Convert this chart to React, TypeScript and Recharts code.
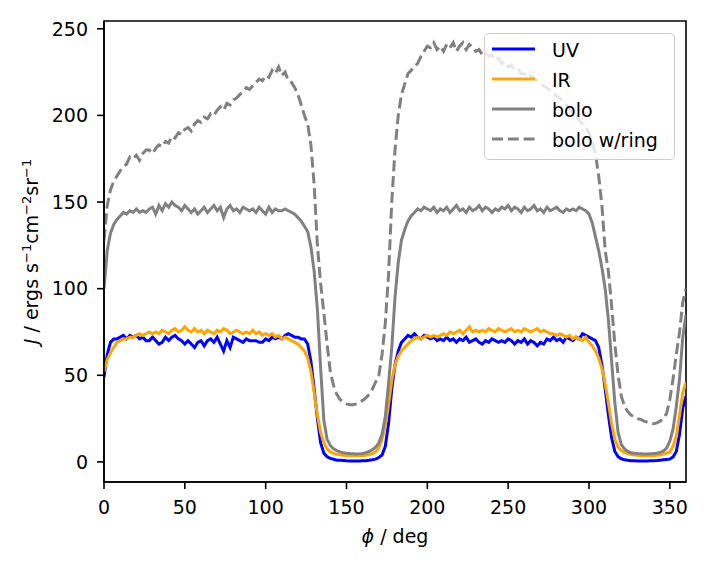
import React from 'react';
import { LineChart, Line, XAxis, YAxis, Legend, ReferenceArea } from 'recharts';

// phi grid in degrees (2 deg step)
const PHI = [
  0, 2, 4, 6, 8, 10, 12, 14, 16, 18,
  20, 22, 24, 26, 28, 30, 32, 34, 36, 38,
  40, 42, 44, 46, 48, 50, 52, 54, 56, 58,
  60, 62, 64, 66, 68, 70, 72, 74, 76, 78,
  80, 82, 84, 86, 88, 90, 92, 94, 96, 98,
  100, 102, 104, 106, 108, 110, 112, 114, 116, 118,
  120, 122, 124, 126, 128, 130, 132, 134, 136, 138,
  140, 142, 144, 146, 148, 150, 152, 154, 156, 158,
  160, 162, 164, 166, 168, 170, 172, 174, 176, 178,
  180, 182, 184, 186, 188, 190, 192, 194, 196, 198,
  200, 202, 204, 206, 208, 210, 212, 214, 216, 218,
  220, 222, 224, 226, 228, 230, 232, 234, 236, 238,
  240, 242, 244, 246, 248, 250, 252, 254, 256, 258,
  260, 262, 264, 266, 268, 270, 272, 274, 276, 278,
  280, 282, 284, 286, 288, 290, 292, 294, 296, 298,
  300, 302, 304, 306, 308, 310, 312, 314, 316, 318,
  320, 322, 324, 326, 328, 330, 332, 334, 336, 338,
  340, 342, 344, 346, 348, 350, 352, 354, 356, 358,
  360,
];

const UV = [
  49, 62, 69, 71, 71, 72, 73, 71, 73, 72,
  73, 71, 72, 70, 70, 72, 70, 68, 69, 72,
  70, 72, 73, 71, 70, 68, 70, 68, 66, 69,
  70, 67, 70, 71, 69, 72, 68, 64, 70, 66,
  72, 71, 70, 69, 71, 70, 70, 70, 69, 69,
  71, 70, 72, 71, 72, 71, 73, 74, 73, 72,
  72, 71, 71, 68, 58, 42, 25, 11, 5, 3,
  2, 1.5, 1, 1, 0.8, 0.6, 0.5, 0.5, 0.5, 0.5,
  0.6, 0.7, 0.9, 1.2, 1.6, 2.5, 4, 9, 22, 42,
  56, 64, 69, 71, 73, 72, 74, 72, 71, 73,
  72, 71, 72, 70, 71, 70, 72, 70, 71, 69,
  71, 70, 72, 69, 70, 71, 69, 68, 70, 69,
  71, 70, 69, 70, 69, 71, 70, 68, 70, 69,
  71, 68, 70, 69, 67, 69, 68, 71, 70, 72,
  70, 71, 69, 72, 71, 70, 72, 71, 74, 73,
  72, 71, 70, 66, 56, 42, 27, 14, 6, 3,
  1.8, 1.2, 0.9, 0.7, 0.6, 0.5, 0.5, 0.5, 0.5, 0.6,
  0.7, 0.8, 1, 1.2, 1.4, 1.6, 2.8, 6, 16, 31,
  38,
];

const IR = [
  52, 59, 63, 66, 69, 70, 71, 71, 72, 72,
  73, 74, 73, 74, 75, 74, 75, 74, 76, 75,
  74, 76, 77, 75, 76, 78, 76, 75, 77, 75,
  76, 74, 76, 75, 74, 76, 75, 77, 76, 74,
  75, 76, 75, 74, 75, 74, 76, 74, 75, 73,
  74, 73, 74, 72, 73, 71, 72, 71, 70, 69,
  68, 66, 64, 60, 52, 40, 27, 17, 11, 7.5,
  5.8, 4.9, 4.4, 4.1, 3.9, 3.7, 3.6, 3.5, 3.5, 3.5,
  3.6, 3.8, 4.2, 4.8, 5.8, 8, 13, 21, 33, 47,
  56, 61, 64, 66, 68, 70, 71, 72, 71, 72,
  73, 72, 73, 72, 73, 74, 73, 75, 74, 75,
  76, 74, 76, 78, 75, 76, 75, 76, 75, 77,
  76, 75, 77, 76, 75, 76, 77, 75, 76, 75,
  77, 76, 75, 76, 77, 75, 76, 75, 74, 74,
  73, 74, 73, 72, 73, 71, 72, 71, 70, 72,
  69, 67, 64, 60, 54, 45, 34, 22, 13, 8.5,
  6.5, 5.5, 4.8, 4.3, 4, 3.8, 3.6, 3.5, 3.5, 3.5,
  3.6, 3.8, 4, 4.5, 5, 5.8, 9, 15, 27, 40,
  46,
];

const BOLO = [
  100, 122, 132, 137, 140, 142, 144, 143, 145, 144,
  146, 144, 145, 144, 146, 147, 143, 148, 145, 149,
  147, 150, 148, 147, 145, 148, 146, 144, 146, 143,
  145, 147, 144, 146, 148, 145, 147, 141, 146, 148,
  145, 146, 144, 147, 146, 145, 146, 144, 147, 145,
  143, 147, 144, 146, 145, 145, 146, 145, 144, 143,
  141, 139, 136, 133, 124, 110, 88, 54, 24, 13,
  9.5, 7.5, 6.5, 5.8, 5.3, 5, 4.8, 4.7, 4.6, 4.7,
  4.9, 5.3, 6, 7, 8.5, 11, 16, 26, 45, 66,
  95, 115, 128, 134, 139, 142, 144, 146, 145, 147,
  146, 145, 147, 144, 146, 145, 147, 144, 146, 148,
  145, 146, 144, 147, 145, 146, 148, 145, 147, 146,
  144, 146, 145, 147, 146, 148, 145, 147, 146, 144,
  147, 145, 146, 148, 145, 146, 144, 147, 145, 146,
  147, 145, 144, 146, 145, 146, 145, 147, 146, 145,
  143, 138, 130, 122, 112, 100, 82, 58, 34, 17,
  10, 7.5, 6, 5.3, 5, 4.8, 4.7, 4.6, 4.6, 4.7,
  4.8, 5, 5.5, 6.2, 8, 12, 19, 32, 48, 72,
  85,
];

const BOLO_RING = [
  128, 148, 157, 162, 165, 168, 170, 172, 176, 175,
  177, 174, 178, 180, 180, 178, 181, 183, 182, 185,
  184, 188, 187, 190, 189, 192, 193, 191, 195, 197,
  196, 199, 198, 201, 200, 203, 205, 203, 207, 206,
  209, 210, 212, 214, 216, 215, 217, 219, 221, 220,
  223, 222, 226, 224, 228, 223, 225, 220, 219, 216,
  212, 206, 200, 195, 183, 160, 125, 103, 86, 68,
  52, 44, 39, 36, 34.5, 33.5, 33, 33, 33.5, 34.5,
  35.5, 37, 39, 42, 46, 50, 62, 80, 108, 150,
  180, 200, 212, 218, 224, 226, 228, 230, 234, 237,
  240, 239, 242, 238, 240, 237, 241, 239, 242, 237,
  240, 242, 238, 241, 239, 237, 238, 235, 236, 234,
  235, 232, 233, 230, 231, 228, 229, 226, 227, 224,
  224, 222, 223, 221, 220, 218, 217, 216, 214, 213,
  211, 210, 208, 206, 204, 202, 200, 197, 195, 193,
  190, 185, 178, 165, 148, 122, 110, 90, 68, 50,
  38, 32, 29, 27, 26, 25, 24.5, 23.5, 23, 22.5,
  22, 22.5, 23.5, 25, 28, 36, 48, 62, 75, 92,
  100,
];

const X_TICKS = [0, 50, 100, 150, 200, 250, 300, 350];
const Y_TICKS = [0, 50, 100, 150, 200, 250];
const X_DOMAIN: [number, number] = [0, 360];
const Y_DOMAIN: [number, number] = [-11.6, 254.5];

const SERIES = [
  { key: 'uv', name: 'UV', color: '#0000ff', dash: undefined as string | undefined },
  { key: 'ir', name: 'IR', color: '#ffa500', dash: undefined as string | undefined },
  { key: 'bolo', name: 'bolo', color: '#808080', dash: undefined as string | undefined },
  { key: 'ring', name: 'bolo w/ring', color: '#808080', dash: '11 4.8' },
];

const data = PHI.map((phi, i) => ({
  phi,
  uv: UV[i],
  ir: IR[i],
  bolo: BOLO[i],
  ring: BOLO_RING[i],
}));

const FONT = 19;

const LegendBox = () => (
  <div
    style={{
      width: 191,
      height: 127,
      boxSizing: 'border-box',
      border: '1.5px solid #cccccc',
      borderRadius: 5,
      background: 'rgba(255,255,255,0.8)',
      position: 'relative',
    }}
  >
    <svg width={191} height={127} style={{ position: 'absolute', left: -1.5, top: -1.5 }}>
      {SERIES.map((s, i) => (
        <g key={s.key}>
          <line x1={8} x2={51} y1={16 + 30 * i} y2={16 + 30 * i} stroke={s.color} strokeWidth={3} strokeDasharray={s.dash} />
          <text x={68} y={17 + 30 * i} dy="0.35em" fontSize={FONT} fill="#000">
            {s.name}
          </text>
        </g>
      ))}
    </svg>
  </div>
);

const XLabel = () => (
  <text x={395} y={543} textAnchor="middle" fontSize={FONT} fill="#000">
    <tspan fontStyle="italic">{'\u03D5'}</tspan> / deg
  </text>
);

const YLabel = () => (
  <text transform="translate(37.5,251.5) rotate(-90)" textAnchor="middle" fontSize={FONT} fill="#000">
    <tspan fontStyle="italic">J</tspan>
    <tspan> / ergs s</tspan>
    <tspan dy={-7} fontSize={13}>{'\u22121'}</tspan>
    <tspan dy={7}>cm</tspan>
    <tspan dy={-7} fontSize={13}>{'\u22122'}</tspan>
    <tspan dy={7}>sr</tspan>
    <tspan dy={-7} fontSize={13}>{'\u22121'}</tspan>
  </text>
);

const axisLine = { stroke: '#000', strokeWidth: 1.6 };
const tickLine = { stroke: '#000', strokeWidth: 1.6 };
const tickStyle = { fill: '#000', fontSize: FONT };

export default function App() {
  return (
    <div
      style={{
        position: 'absolute',
        left: 0,
        top: 0,
        width: 709,
        height: 566,
        background: '#fff',
        fontFamily: '"DejaVu Sans", sans-serif',
      }}
    >
      <LineChart width={709} height={566} data={data} margin={{ top: 21, right: 23, bottom: 0, left: 0 }}>
        <XAxis
          dataKey="phi"
          type="number"
          domain={X_DOMAIN}
          ticks={X_TICKS}
          height={84}
          tickSize={7}
          tickMargin={12}
          axisLine={axisLine}
          tickLine={tickLine}
          tick={tickStyle}
          label={<XLabel />}
          allowDataOverflow
        />
        <YAxis
          type="number"
          domain={Y_DOMAIN}
          ticks={Y_TICKS}
          width={104}
          tickSize={7}
          tickMargin={9}
          axisLine={axisLine}
          tickLine={tickLine}
          tick={tickStyle}
          label={<YLabel />}
          allowDataOverflow
        />
        {SERIES.map((s) => (
          <Line
            key={s.key}
            type="linear"
            dataKey={s.key}
            name={s.name}
            stroke={s.color}
            strokeWidth={3}
            strokeDasharray={s.dash}
            dot={false}
            activeDot={false}
            isAnimationActive={false}
          />
        ))}
        {/* full frame: top and right spines */}
        <ReferenceArea
          x1={X_DOMAIN[0]}
          x2={X_DOMAIN[1]}
          y1={Y_DOMAIN[0]}
          y2={Y_DOMAIN[1]}
          fill="none"
          fillOpacity={0}
          stroke="#000"
          strokeWidth={1.6}
          strokeOpacity={1}
        />
        <Legend
          content={<LegendBox />}
          layout="horizontal"
          verticalAlign="middle"
          align="center"
          wrapperStyle={{ left: 484, top: 33, width: 191, height: 127 }}
        />
      </LineChart>
    </div>
  );
}
